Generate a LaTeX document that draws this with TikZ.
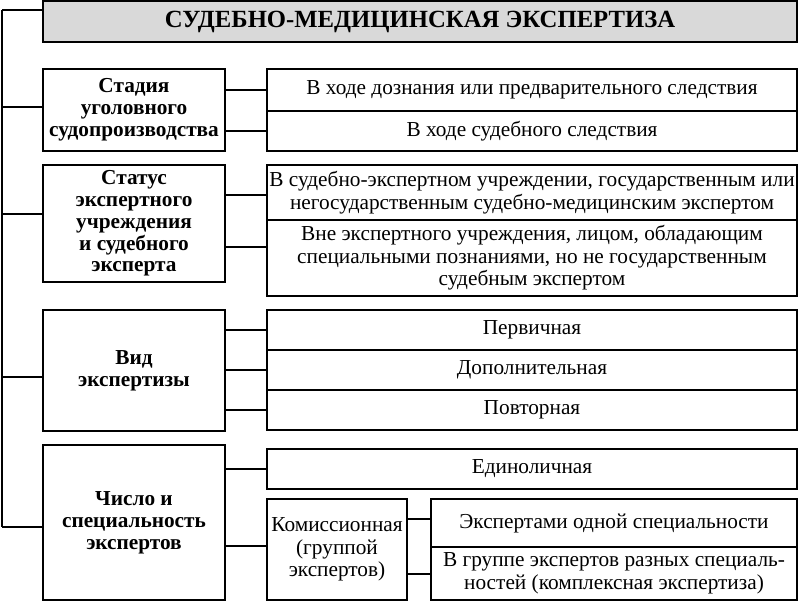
\documentclass[tikz,border=0pt]{standalone}
\usepackage{fontspec}
\setmainfont{Liberation Serif}
\usepackage{tikz}

\begin{document}
\begin{tikzpicture}[x=1pt, y=-1pt, line width=1.6pt,
    box/.style={draw, inner sep=0pt, align=center, font=\fontsize{21.3}{22.5}\selectfont},
    head/.style={box, font=\bfseries\fontsize{21.3}{21.8}\selectfont},
    title/.style={box, fill=black!15, font=\bfseries\fontsize{24.7}{26}\selectfont}]
        \useasboundingbox (0,0) rectangle (800,602);

        \node[title, minimum width=754, minimum height=41] (expertiza) at (420, 21.5) {СУДЕБНО-МЕДИЦИНСКАЯ ЭКСПЕРТИЗА};

        \node[head, minimum width=182, minimum height=82] (stadiya) at (134, 110) {Стадия\\уголовного\\судопроизводства};
        \node[head, minimum width=182, minimum height=117] (status) at (134, 223.5) {Статус\\экспертного\\учреждения\\и судебного\\эксперта};
        \node[head, minimum width=182, minimum height=121] (vid) at (134, 370.5) {Вид\\экспертизы};
        \node[head, minimum width=182, minimum height=155] (chislo) at (134, 522.5) {Число и\\специальность\\экспертов};

        \node[box, minimum width=530, minimum height=42] (doznanie) at (532, 90) {В ходе дознания или предварительного следствия};
        \node[box, minimum width=530, minimum height=40] (sud) at (532, 131) {В ходе судебного следствия};

        \node[box, minimum width=530, minimum height=55] (vnutri) at (532, 192.5) {В судебно-экспертном учреждении, государственным или\\негосударственным судебно-медицинским экспертом};
        \node[box, minimum width=530, minimum height=76] (vne) at (532, 258) {Вне экспертного учреждения, лицом, обладающим\\специальными познаниями, но не государственным\\судебным экспертом};

        \node[box, minimum width=530, minimum height=40] (pervich) at (532, 330) {Первичная};
        \node[box, minimum width=530, minimum height=40] (dopoln) at (532, 370) {Дополнительная};
        \node[box, minimum width=530, minimum height=40] (povtor) at (532, 410) {Повторная};

        \node[box, minimum width=530, minimum height=40] (edinol) at (532, 469) {Единоличная};
        \node[box, minimum width=140, minimum height=101] (komis) at (337, 549.5) {Комиссионная\\(группой\\экспертов)};
        \node[box, minimum width=366, minimum height=48] (odnoi) at (614, 523) {Экспертами одной специальности};
        \node[box, minimum width=366, minimum height=53] (raznyh) at (614, 573.5) {В группе экспертов разных специаль-\\ностей (комплексная экспертиза)};

        \coordinate (top) at (2, 10);
        \coordinate (bot) at (2, 527);
        \coordinate (s1) at (2, 107);
        \coordinate (s2) at (2, 214);
        \coordinate (s3) at (2, 377);

        \draw[-] (top) -- (bot);
        \draw[-] (top) -- (top -| expertiza.west);
        \draw[-] (s1) -- (s1 -| stadiya.west);
        \draw[-] (s2) -- (s2 -| status.west);
        \draw[-] (s3) -- (s3 -| vid.west);
        \draw[-] (bot) -- (bot -| chislo.west);

        \draw[-] (stadiya.east |- doznanie.west) -- (doznanie.west);
        \draw[-] (stadiya.east |- sud.west) -- (sud.west);

        \draw[-] ([yshift=-2.5pt]status.east |- vnutri.west) -- ([yshift=-2.5pt]vnutri.west);
        \draw[-] ([yshift=11pt]status.east |- vne.west) -- ([yshift=11pt]vne.west);

        \draw[-] (vid.east |- pervich.west) -- (pervich.west);
        \draw[-] (vid.east |- dopoln.west) -- (dopoln.west);
        \draw[-] (vid.east |- povtor.west) -- (povtor.west);

        \draw[-] (chislo.east |- edinol.west) -- (edinol.west);
        \draw[-] ([yshift=3.5pt]chislo.east |- komis.west) -- ([yshift=3.5pt]komis.west);
        \draw[-] ([yshift=4pt]komis.east |- odnoi.west) -- ([yshift=4pt]odnoi.west);
        \draw[-] ([yshift=-0.5pt]komis.east |- raznyh.west) -- ([yshift=-0.5pt]raznyh.west);
    \end{tikzpicture}
\end{document}
